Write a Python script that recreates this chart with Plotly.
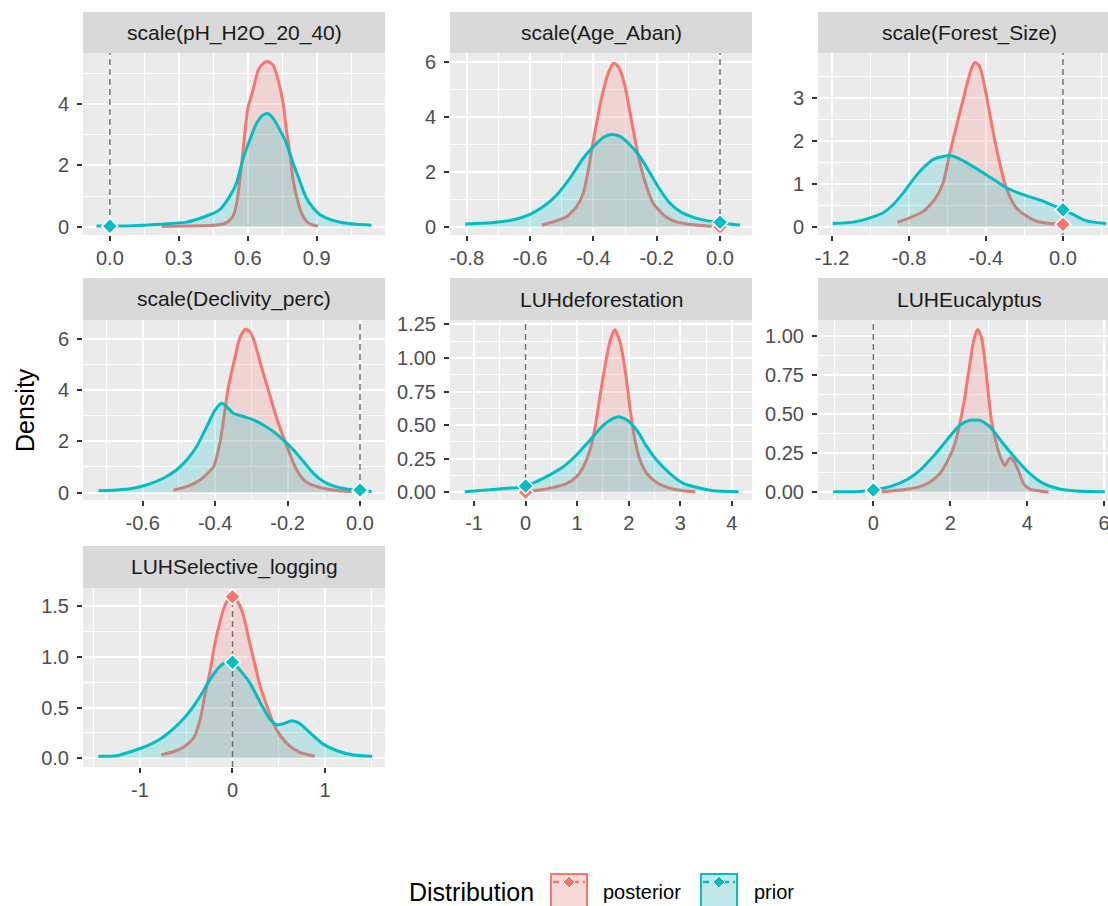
import plotly.graph_objects as go

# ---------------------------------------------------------------------------
# Data: prior / posterior densities for each model term
# ---------------------------------------------------------------------------
panel_titles = [
    "scale(pH_H2O_20_40)", "scale(Age_Aban)", "scale(Forest_Size)",
    "scale(Declivity_perc)", "LUHdeforestation", "LUHEucalyptus",
    "LUHSelective_logging",
]

# scale(pH_H2O_20_40)
ph_post_x = [0.225, 0.333, 0.449, 0.493, 0.515, 0.536, 0.55, 0.562, 0.574, 0.587, 0.601, 0.623, 0.645,
             0.667, 0.688, 0.71, 0.732, 0.754, 0.768, 0.783, 0.797, 0.812, 0.833, 0.855, 0.877, 0.906]
ph_post_y = [0.01, 0.025, 0.05, 0.09, 0.17, 0.35, 0.7, 1.3, 2.1, 3.06, 3.9, 4.47, 5.1,
             5.33, 5.39, 5.28, 4.79, 4.03, 3.17, 2.41, 1.54, 1.0, 0.46, 0.18, 0.07, 0.02]
ph_prior_x = [-0.058, 0.0, 0.1, 0.217, 0.333, 0.42, 0.478, 0.522, 0.551, 0.58, 0.609, 0.638, 0.667,
              0.688, 0.71, 0.739, 0.768, 0.797, 0.826, 0.855, 0.884, 0.913, 0.957, 1.014, 1.072, 1.138]
ph_prior_y = [0.02, 0.02, 0.03, 0.08, 0.15, 0.35, 0.56, 1.0, 1.43, 2.24, 2.84, 3.38, 3.65,
              3.69, 3.54, 3.17, 2.73, 2.08, 1.49, 0.94, 0.62, 0.4, 0.24, 0.13, 0.08, 0.05]

# scale(Age_Aban)
age_post_x = [-0.563, -0.526, -0.484, -0.453, -0.432, -0.416, -0.4, -0.384, -0.368, -0.353, -0.337,
              -0.326, -0.316, -0.3, -0.284, -0.268, -0.253, -0.232, -0.211, -0.179, -0.147, -0.105,
              -0.063, 0.0, 0.021]
age_post_y = [0.08, 0.2, 0.39, 0.75, 1.23, 2.08, 3.16, 4.13, 4.98, 5.58, 5.94,
              5.88, 5.7, 5.1, 4.13, 3.16, 2.32, 1.47, 0.87, 0.45, 0.23, 0.12,
              0.07, 0.01, 0.01]
age_prior_x = [-0.805, -0.716, -0.653, -0.6, -0.558, -0.516, -0.474, -0.432, -0.4, -0.368, -0.342,
               -0.316, -0.284, -0.253, -0.221, -0.189, -0.158, -0.126, -0.084, -0.042, 0.0, 0.032, 0.063]
age_prior_y = [0.12, 0.17, 0.27, 0.47, 0.75, 1.17, 1.78, 2.5, 2.92, 3.26, 3.36,
               3.29, 2.98, 2.56, 1.96, 1.35, 0.87, 0.57, 0.36, 0.24, 0.18, 0.12, 0.08]

# scale(Forest_Size)
forest_post_x = [-0.86, -0.796, -0.727, -0.666, -0.623, -0.588, -0.554, -0.519, -0.493, -0.471, -0.457,
                 -0.433, -0.407, -0.381, -0.355, -0.329, -0.303, -0.277, -0.242, -0.19, -0.138, -0.069,
                 0.0, 0.035]
forest_post_y = [0.11, 0.21, 0.36, 0.64, 1.02, 1.72, 2.34, 2.96, 3.43, 3.74, 3.83,
                 3.74, 3.27, 2.65, 2.03, 1.49, 1.02, 0.71, 0.44, 0.25, 0.13, 0.08,
                 0.06, 0.03]
forest_prior_x = [-1.197, -1.09, -1.003, -0.934, -0.882, -0.83, -0.779, -0.727, -0.675, -0.623, -0.588,
                  -0.545, -0.484, -0.415, -0.346, -0.294, -0.242, -0.173, -0.104, -0.043, 0.0, 0.052,
                  0.104, 0.156, 0.225]
forest_prior_y = [0.08, 0.11, 0.21, 0.33, 0.52, 0.79, 1.1, 1.37, 1.57, 1.64, 1.66,
                  1.6, 1.45, 1.26, 1.06, 0.91, 0.81, 0.7, 0.6, 0.48, 0.4, 0.29,
                  0.17, 0.11, 0.08]

# scale(Declivity_perc)
decl_post_x = [-0.515, -0.478, -0.442, -0.405, -0.386, -0.365, -0.345, -0.333, -0.317, -0.305, -0.294,
               -0.274, -0.253, -0.23, -0.207, -0.179, -0.156, -0.138, -0.11, -0.074, -0.037, 0.0]
decl_post_y = [0.1, 0.23, 0.49, 1.0, 2.0, 4.0, 5.3, 6.0, 6.38, 6.3, 6.0,
               5.0, 4.0, 2.9, 2.0, 1.0, 0.5, 0.33, 0.2, 0.1, 0.05, 0.04]
decl_prior_x = [-0.722, -0.672, -0.626, -0.589, -0.543, -0.506, -0.478, -0.451, -0.423, -0.4, -0.382,
                -0.368, -0.35, -0.322, -0.294, -0.267, -0.239, -0.212, -0.184, -0.156, -0.129, -0.101,
                -0.074, -0.037, 0.0, 0.032]
decl_prior_y = [0.07, 0.1, 0.17, 0.3, 0.56, 0.89, 1.28, 1.8, 2.58, 3.23, 3.49,
                3.36, 3.1, 2.97, 2.84, 2.64, 2.38, 2.06, 1.67, 1.21, 0.76, 0.43,
                0.26, 0.14, 0.1, 0.04]

# LUHdeforestation
defo_post_x = [-0.05, 0.28, 0.54, 0.8, 0.99, 1.12, 1.25, 1.35, 1.44, 1.54, 1.64, 1.73, 1.83, 1.93,
               2.03, 2.12, 2.22, 2.35, 2.54, 2.8, 3.06, 3.29]
defo_post_y = [0.0, 0.017, 0.037, 0.067, 0.117, 0.19, 0.315, 0.49, 0.71, 0.94, 1.13, 1.21, 1.12, 0.91,
               0.61, 0.39, 0.24, 0.14, 0.074, 0.03, 0.012, 0.005]
defo_prior_x = [-1.18, -0.76, -0.37, -0.11, 0.0, 0.21, 0.47, 0.73, 0.99, 1.25, 1.51, 1.7, 1.8, 1.96,
                2.16, 2.35, 2.54, 2.8, 3.06, 3.39, 3.64, 4.13]
defo_prior_y = [0.005, 0.017, 0.03, 0.037, 0.047, 0.08, 0.13, 0.19, 0.28, 0.39, 0.5, 0.55, 0.563, 0.54,
                0.46, 0.34, 0.24, 0.14, 0.067, 0.03, 0.012, 0.005]

# LUHEucalyptus
euc_post_x = [0.17, 0.52, 0.87, 1.21, 1.47, 1.73, 1.95, 2.12, 2.25, 2.38, 2.51, 2.61, 2.71, 2.81,
              2.9, 2.99, 3.07, 3.2, 3.33, 3.42, 3.55, 3.65, 3.77, 3.9, 4.07, 4.33, 4.55]
euc_post_y = [0.002, 0.01, 0.019, 0.036, 0.064, 0.12, 0.21, 0.31, 0.44, 0.61, 0.82, 0.97, 1.04, 0.99,
              0.84, 0.63, 0.46, 0.31, 0.21, 0.17, 0.22, 0.2, 0.14, 0.057, 0.021, 0.009, 0.002]
euc_prior_x = [-1.04, -0.35, 0.0, 0.43, 0.87, 1.21, 1.56, 1.9, 2.25, 2.51, 2.77, 3.03, 3.38, 3.72,
               4.07, 4.42, 4.85, 5.28, 6.02]
euc_prior_y = [0.004, 0.006, 0.015, 0.036, 0.08, 0.14, 0.23, 0.33, 0.43, 0.46, 0.46, 0.42, 0.31, 0.21,
               0.12, 0.057, 0.021, 0.009, 0.004]

# LUHSelective_logging
sel_post_x = [-0.77, -0.64, -0.53, -0.42, -0.35, -0.3, -0.24, -0.19, -0.13, -0.08, -0.025, 0.0,
              0.065, 0.12, 0.17, 0.23, 0.3, 0.37, 0.44, 0.52, 0.62, 0.73, 0.89]
sel_post_y = [0.036, 0.065, 0.11, 0.2, 0.38, 0.61, 0.87, 1.13, 1.36, 1.51, 1.58, 1.59,
              1.53, 1.4, 1.2, 0.97, 0.71, 0.52, 0.35, 0.22, 0.12, 0.059, 0.02]
sel_prior_x = [-1.45, -1.25, -1.07, -0.93, -0.78, -0.64, -0.49, -0.35, -0.24, -0.13, -0.06, 0.0,
               0.08, 0.19, 0.3, 0.41, 0.48, 0.55, 0.64, 0.73, 0.84, 0.98, 1.13, 1.31, 1.51]
sel_prior_y = [0.02, 0.026, 0.075, 0.12, 0.19, 0.29, 0.43, 0.61, 0.78, 0.91, 0.95, 0.945,
               0.87, 0.74, 0.55, 0.38, 0.33, 0.34, 0.37, 0.34, 0.25, 0.14, 0.075, 0.033, 0.02]

# Density of each distribution evaluated at zero
post_at_zero = [0.0, 0.01, 0.06, 0.04, 0.0, 0.0, 1.59]
prior_at_zero = [0.02, 0.18, 0.4, 0.1, 0.047, 0.015, 0.945]

# Axis tick values and labels
x_tick_vals = [
    [0.0, 0.3, 0.6, 0.9],
    [-0.8, -0.6, -0.4, -0.2, 0.0],
    [-1.2, -0.8, -0.4, 0.0],
    [-0.6, -0.4, -0.2, 0.0],
    [-1, 0, 1, 2, 3, 4],
    [0, 2, 4, 6],
    [-1, 0, 1],
]
x_tick_text = [
    ["0.0", "0.3", "0.6", "0.9"],
    ["-0.8", "-0.6", "-0.4", "-0.2", "0.0"],
    ["-1.2", "-0.8", "-0.4", "0.0"],
    ["-0.6", "-0.4", "-0.2", "0.0"],
    ["-1", "0", "1", "2", "3", "4"],
    ["0", "2", "4", "6"],
    ["-1", "0", "1"],
]
y_tick_vals = [
    [0, 2, 4],
    [0, 2, 4, 6],
    [0, 1, 2, 3],
    [0, 2, 4, 6],
    [0, 0.25, 0.5, 0.75, 1.0, 1.25],
    [0, 0.25, 0.5, 0.75, 1.0],
    [0, 0.5, 1.0, 1.5],
]
y_tick_text = [
    ["0", "2", "4"],
    ["0", "2", "4", "6"],
    ["0", "1", "2", "3"],
    ["0", "2", "4", "6"],
    ["0.00", "0.25", "0.50", "0.75", "1.00", "1.25"],
    ["0.00", "0.25", "0.50", "0.75", "1.00"],
    ["0.0", "0.5", "1.0", "1.5"],
]

posterior = [
    (ph_post_x, ph_post_y), (age_post_x, age_post_y), (forest_post_x, forest_post_y),
    (decl_post_x, decl_post_y), (defo_post_x, defo_post_y), (euc_post_x, euc_post_y),
    (sel_post_x, sel_post_y),
]
prior = [
    (ph_prior_x, ph_prior_y), (age_prior_x, age_prior_y), (forest_prior_x, forest_prior_y),
    (decl_prior_x, decl_prior_y), (defo_prior_x, defo_prior_y), (euc_prior_x, euc_prior_y),
    (sel_prior_x, sel_prior_y),
]

# ---------------------------------------------------------------------------
# Styling and layout
# ---------------------------------------------------------------------------
W, H = 1108, 906
FONT = "Liberation Sans, Arial, Helvetica, sans-serif"
RED, TEAL = "#F8766D", "#00BFC4"
RED_FILL, TEAL_FILL = "rgba(248,118,109,0.2)", "rgba(0,191,196,0.2)"

# axis ranges (include the usual 5% padding around the data)
x_ranges = [
    [-0.117, 1.197], [-0.853, 0.101], [-1.273, 0.234], [-0.765, 0.069],
    [-1.466, 4.39], [-1.437, 6.10], [-1.616, 1.649],
]
y_ranges = [
    [-0.27, 5.67], [-0.28, 6.31], [-0.19, 4.05], [-0.29, 6.74],
    [-0.057, 1.282], [-0.049, 1.10], [-0.085, 1.676],
]

# panel placement in pixels
col_px = [(83, 385), (450, 752), (818, 1108)]
strip_right = [385, 752, 1120]   # last column's strip runs past the page edge
row_px = [(12, 53, 235), (278, 320, 500), (546, 588, 767)]  # strip top, panel top, panel bottom


def px_x(v):
    return v / W


def px_y(v):
    return 1 - v / H


def minor_vals(ticks):
    step = ticks[1] - ticks[0]
    return [ticks[0] - step / 2] + [t + step / 2 for t in ticks]


fig = go.Figure()
shapes, annotations = [], []

for i in range(7):
    r, c = divmod(i, 3)
    n = "" if i == 0 else str(i + 1)
    xa, ya = "x" + n, "y" + n
    x0, x1 = col_px[c]
    s_top, p_top, p_bot = row_px[r]

    axis_common = dict(
        tickmode="array", ticks="outside", ticklen=5, tickwidth=1.6, tickcolor="#333333",
        showgrid=True, gridcolor="white", gridwidth=2, zeroline=False, showline=False,
        tickfont=dict(family=FONT, size=20, color="#4D4D4D"), fixedrange=True,
        automargin=False, ticklabeloverflow="allow",
    )
    fig.layout["xaxis" + n] = dict(
        axis_common, domain=[px_x(x0), px_x(x1)], range=x_ranges[i], anchor=ya,
        tickvals=x_tick_vals[i], ticktext=x_tick_text[i], ticklabelstandoff=0,
        minor=dict(tickmode="array", tickvals=minor_vals(x_tick_vals[i]), showgrid=True,
                   gridcolor="white", gridwidth=1, ticks=""),
    )
    fig.layout["yaxis" + n] = dict(
        axis_common, domain=[px_y(p_bot), px_y(p_top)], range=y_ranges[i], anchor=xa,
        tickvals=y_tick_vals[i], ticktext=y_tick_text[i], ticklabelstandoff=4,
        minor=dict(tickmode="array", tickvals=minor_vals(y_tick_vals[i]), showgrid=True,
                   gridcolor="white", gridwidth=1, ticks=""),
    )

    # posterior then prior density areas
    for (xs, ys), col, fc in ((posterior[i], RED, RED_FILL), (prior[i], TEAL, TEAL_FILL)):
        fig.add_trace(go.Scatter(
            x=xs, y=ys, xaxis=xa, yaxis=ya, mode="lines", fill="tozeroy", fillcolor=fc,
            line=dict(color=col, width=3, shape="spline", smoothing=0.6),
            showlegend=False, hoverinfo="skip",
        ))

    # reference line at zero
    fig.add_trace(go.Scatter(
        x=[0, 0], y=y_ranges[i], xaxis=xa, yaxis=ya, mode="lines",
        line=dict(color="#707070", width=1.5, dash="6px,4px"),
        showlegend=False, hoverinfo="skip",
    ))

    # density at zero
    for val, col in ((post_at_zero[i], RED), (prior_at_zero[i], TEAL)):
        fig.add_trace(go.Scatter(
            x=[0], y=[val], xaxis=xa, yaxis=ya, mode="markers",
            marker=dict(symbol="diamond", size=12, color=col, line=dict(color="white", width=1.5)),
            showlegend=False, hoverinfo="skip",
        ))

    # facet strip
    sr = strip_right[c]
    shapes.append(dict(type="rect", xref="paper", yref="paper",
                       x0=px_x(x0), x1=px_x(min(sr, W)), y0=px_y(p_top), y1=px_y(s_top),
                       fillcolor="#D9D9D9", line=dict(width=0), layer="below"))
    annotations.append(dict(text=panel_titles[i], xref="paper", yref="paper",
                            x=px_x((x0 + sr) / 2), y=px_y((s_top + p_top) / 2),
                            xanchor="center", yanchor="middle", showarrow=False,
                            font=dict(family=FONT, size=21, color="#1A1A1A")))

# y-axis title
annotations.append(dict(text="Density", xref="paper", yref="paper", x=px_x(25), y=px_y(410),
                        textangle=-90, xanchor="center", yanchor="middle", showarrow=False,
                        font=dict(family=FONT, size=25, color="black")))

# legend
legend_y = 892
annotations.append(dict(text="Distribution", xref="paper", yref="paper", x=px_x(407), y=px_y(legend_y),
                        xanchor="left", yanchor="middle", showarrow=False,
                        font=dict(family=FONT, size=25, color="black")))
legend_items = [("posterior", RED, RED_FILL, 550, 601), ("prior", TEAL, TEAL_FILL, 700, 752)]
for label, col, fc, kx, tx in legend_items:
    kw = 38
    shapes.append(dict(type="rect", xref="paper", yref="paper", x0=px_x(kx), x1=px_x(kx + kw),
                       y0=px_y(912), y1=px_y(873), fillcolor="#F2F2F2", line=dict(width=0)))
    shapes.append(dict(type="rect", xref="paper", yref="paper", x0=px_x(kx + 1), x1=px_x(kx + kw - 1),
                       y0=px_y(912), y1=px_y(874), fillcolor=fc, line=dict(color=col, width=2)))
    shapes.append(dict(type="line", xref="paper", yref="paper", x0=px_x(kx + 3), x1=px_x(kx + kw - 3),
                       y0=px_y(882), y1=px_y(882), line=dict(color=col, width=2.5, dash="6px,4px")))
    cx, cy, d = kx + kw / 2, 882, 6
    path = "M {},{} L {},{} L {},{} L {},{} Z".format(
        px_x(cx), px_y(cy - d), px_x(cx + d), px_y(cy), px_x(cx), px_y(cy + d), px_x(cx - d), px_y(cy))
    shapes.append(dict(type="path", xref="paper", yref="paper", path=path,
                       fillcolor=col, line=dict(color="white", width=1)))
    annotations.append(dict(text=label, xref="paper", yref="paper", x=px_x(tx), y=px_y(legend_y),
                            xanchor="left", yanchor="middle", showarrow=False,
                            font=dict(family=FONT, size=20, color="black")))

fig.update_layout(
    width=W, height=H, autosize=False,
    margin=dict(l=0, r=0, t=0, b=0, pad=0),
    paper_bgcolor="white", plot_bgcolor="#EBEBEB",
    shapes=shapes, annotations=annotations, showlegend=False,
    font=dict(family=FONT),
)

fig.write_html("out.html")
